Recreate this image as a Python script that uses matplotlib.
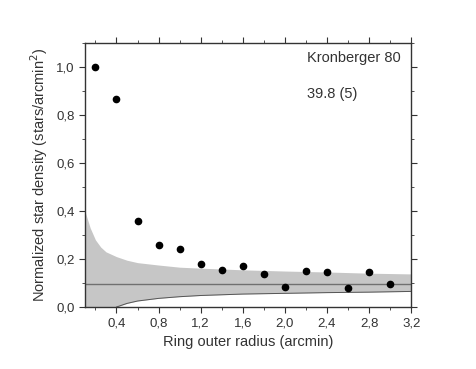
import matplotlib.pyplot as plt
from matplotlib.ticker import FuncFormatter, MultipleLocator

plt.rcParams["font.family"] = ["Liberation Sans", "DejaVu Sans"]

radius = [0.2, 0.4, 0.6, 0.8, 1.0, 1.2, 1.4, 1.6, 1.8, 2.0, 2.2, 2.4, 2.6, 2.8, 3.0]
density = [1.0, 0.867, 0.359, 0.257, 0.243, 0.180, 0.153, 0.172, 0.139,
           0.083, 0.151, 0.147, 0.078, 0.147, 0.096]
background = 0.098

band_x = [0.1, 0.15, 0.2, 0.25, 0.3, 0.4, 0.5, 0.6, 0.8, 1.0, 1.2, 1.6, 2.0, 2.4, 2.8, 3.2]
band_upper = [0.40, 0.33, 0.28, 0.25, 0.23, 0.21, 0.195, 0.185, 0.175, 0.166,
              0.162, 0.155, 0.150, 0.146, 0.141, 0.138]
band_lower = [0.0, 0.0, 0.0, 0.0, 0.0, 0.0, 0.015, 0.025, 0.036, 0.043,
              0.048, 0.054, 0.057, 0.060, 0.062, 0.065]

fig = plt.figure(figsize=(4.77, 3.69), dpi=100)
ax = fig.add_axes([0.178, 0.168, 0.684, 0.715])

ax.fill_between(band_x, band_lower, band_upper, color="#c6c6c6", linewidth=0)
ax.plot(band_x[5:], band_lower[5:], color="#555555", linewidth=0.7)
ax.axhline(background, color="#707070", linewidth=1.0)
ax.plot(radius, density, "o", color="black", markersize=4.5)

ax.text(2.21, 1.037, "Kronberger 80", fontsize=10.5, color="#333333", va="center")
ax.text(2.21, 0.89, "39.8 (5)", fontsize=10.5, color="#333333", va="center")

ax.set_xlim(0.1, 3.2)
ax.set_ylim(0, 1.1)
ax.xaxis.set_major_locator(MultipleLocator(0.4))
ax.xaxis.set_minor_locator(MultipleLocator(0.2))
ax.yaxis.set_major_locator(MultipleLocator(0.2))
ax.yaxis.set_minor_locator(MultipleLocator(0.1))
comma = FuncFormatter(lambda v, pos: f"{v:.1f}".replace(".", ","))
ax.xaxis.set_major_formatter(comma)
ax.yaxis.set_major_formatter(comma)
ax.tick_params(which="both", direction="out", top=True, right=True,
               color="#333333", labelcolor="#333333", labelsize=9.5)
ax.tick_params(which="major", length=4)
ax.tick_params(which="minor", length=2.5)
for spine in ax.spines.values():
    spine.set_color("#333333")
    spine.set_linewidth(1.0)

ax.set_xlabel("Ring outer radius (arcmin)", fontsize=10.5, color="#333333")
ax.set_ylabel("Normalized star density (stars/arcmin$^2$)", fontsize=10.5, color="#333333")

fig.savefig("out.png", dpi=100)
